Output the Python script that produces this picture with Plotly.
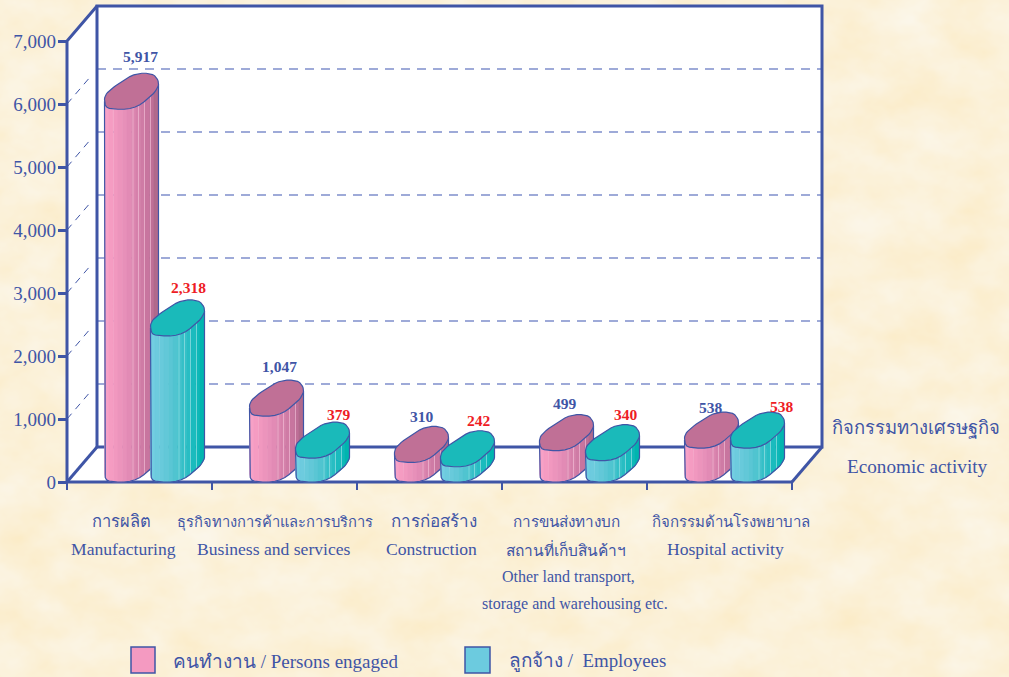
import base64
import plotly.graph_objects as go

# ---------- data ----------
categories_en = ["Manufacturing", "Business and services", "Construction", "Other land transport, storage and warehousing etc.", "Hospital activity"]
categories_th = ["การผลิต", "ธุรกิจทางการค้าและการบริการ", "การก่อสร้าง", "การขนส่งทางบก", "กิจกรรมด้านโรงพยาบาล"]
persons_engaged = [5917, 1047, 310, 499, 538]
employees = [2318, 379, 242, 340, 538]
y_ticks = [0, 1000, 2000, 3000, 4000, 5000, 6000, 7000]

# ---------- scale: pixels <-> data ----------
PX_CAT = 145.0
PX_VAL = 0.063
ORIGIN_X, ORIGIN_Y = 67, 482     # page pixel of (0, 0)
AREA_L, AREA_B = 58, 490         # page pixel of the plot-area left and bottom edges
W, H = 1009, 677
def X(px): return px / PX_CAT
def Y(px): return px / PX_VAL
def ax(page_x): return (page_x - ORIGIN_X) / PX_CAT
def ay(page_y): return (ORIGIN_Y - page_y) / PX_VAL
def paper_y(page_y): return (AREA_B - page_y) / AREA_B

DEPTH_X, DEPTH_Y = 30, 35
BLUE = "#3F55A6"
GRID = "#7F8FCB"
RED = "#EE1C25"
BG = "#FBF1DB"
SERIF = "Liberation Serif, Noto Sans, serif"

fig = go.Figure()

def poly(xs, ys, fill=None, line=None, width=0, dash=None):
    fig.add_trace(go.Scatter(
        x=xs, y=ys, mode="lines", cliponaxis=False, hoverinfo="skip", showlegend=False,
        fill="toself" if fill else "none", fillcolor=fill,
        line=dict(color=line or fill or BLUE, width=width, dash=dash)))

# ---------- walls ----------
top = 7000
dx, dy = X(DEPTH_X), Y(DEPTH_Y)
xend = 5
poly([dx, xend + dx, xend + dx, dx, dx], [dy, dy, top + dy, top + dy, dy], fill="#FFFFFF")
poly([0, dx, dx, 0, 0], [0, dy, top + dy, top, 0], fill="#FFFFFF")
poly([0, xend, xend + dx, dx, 0], [0, 0, dy, dy, 0], fill="#FFFFFF")

gx, gy, sx, sy = [], [], [], []
for v in y_ticks[1:-1]:
    gx += [dx, xend + dx, None]
    gy += [v + dy, v + dy, None]
    sx += [0, dx * 0.84, None]
    sy += [v, v + dy * 0.84, None]
poly(gx, gy, line=GRID, width=1.6, dash="9px,7px")
poly(sx, sy, line=BLUE, width=1, dash="7px,6px")

LW = 3
poly([dx, dx, xend + dx, xend + dx, dx], [dy, top + dy, top + dy, dy, dy], line=BLUE, width=LW)
poly([0, 0, dx], [0, top, top + dy], line=BLUE, width=LW)
poly([0, dx], [0, dy], line=BLUE, width=LW)
poly([xend, xend + dx], [0, dy], line=BLUE, width=LW)
poly([0, xend], [0, 0], line=BLUE, width=LW)

# ---------- real bars, carrying the values ----------
PINK_LEFT, TEAL_LEFT = 37.5, 83.5
fig.add_trace(go.Bar(x=[i + X(PINK_LEFT + 15) for i in range(5)], y=persons_engaged, width=X(18),
                     marker=dict(color="#F49AC1", line=dict(width=0)), name="Persons engaged", showlegend=False,
                     customdata=categories_en, hovertemplate="%{customdata}<br>%{y:,}<extra>Persons engaged</extra>"))
fig.add_trace(go.Bar(x=[i + X(TEAL_LEFT + 15) for i in range(5)], y=employees, width=X(18),
                     marker=dict(color="#6CCBDF", line=dict(width=0)), name="Employees", showlegend=False,
                     customdata=categories_en, hovertemplate="%{customdata}<br>%{y:,}<extra>Employees</extra>"))

# ---------- 3-D body ----------
CONTROL = [(0, 5), (4, 0), (29, 0), (46, 12), (54, 22), (54, 29), (48, 36), (31, 36), (16, 27), (5, 19), (0, 13)]
def chaikin(p, n=2):
    for _ in range(n):
        q = []
        for i in range(len(p)):
            a, b = p[i], p[(i + 1) % len(p)]
            q.append((0.75 * a[0] + 0.25 * b[0], 0.75 * a[1] + 0.25 * b[1]))
            q.append((0.25 * a[0] + 0.75 * b[0], 0.25 * a[1] + 0.75 * b[1]))
        p = q
    return p
SHAPE = chaikin(CONTROL)
xmin = min(p[0] for p in SHAPE); xmax = max(p[0] for p in SHAPE)
SHAPE = [(54 * (p[0] - xmin) / (xmax - xmin), p[1]) for p in SHAPE]
il = min(range(len(SHAPE)), key=lambda i: (SHAPE[i][0], SHAPE[i][1]))
ordered = SHAPE[il:] + SHAPE[:il]
ir2 = max(range(len(ordered)), key=lambda i: ordered[i][0])
LOWER = ordered[: ir2 + 1]

def lower_y(px):
    for a, b in zip(LOWER, LOWER[1:]):
        if a[0] <= px <= b[0] and b[0] > a[0]:
            return a[1] + (b[1] - a[1]) * (px - a[0]) / (b[0] - a[0])
    return LOWER[-1][1]

PINK_RAMP = ["#F7A1C6", "#F59CC2", "#F198BF", "#EC94BC", "#E790B9", "#E28BB5", "#DC86B0", "#D681AB", "#CF7BA5", "#C8759F", "#BE6F97", "#B0698C"]
TEAL_RAMP = ["#72CEE1", "#6DCBDE", "#68CADB", "#62C8D8", "#5AC6D4", "#50C4D0", "#44C2CC", "#36C0C8", "#28BDC3", "#1ABBBE", "#0DB8B8", "#00B5AF"]
LIGHT_LINES = [28.5, 34, 40, 46]

def body(i, left, value, ramp, topc, lightc):
    x0 = i + X(left)
    n = len(ramp)
    for k in range(n):
        a, b = 54 * k / n, 54 * (k + 1) / n
        pts = [a] + [p[0] for p in LOWER if a < p[0] < b] + [b]
        bot = [lower_y(p) for p in pts]
        xs = [x0 + X(p) for p in pts]
        poly(xs + xs[::-1] + [xs[0]],
             [Y(q) for q in bot] + [value + Y(q) for q in bot[::-1]] + [Y(bot[0])],
             fill=ramp[k], width=0.6)
    lx, ly = [], []
    for p in LIGHT_LINES:
        lx += [x0 + X(p), x0 + X(p), None]
        ly += [Y(lower_y(p)), value + Y(lower_y(p)), None]
    poly(lx, ly, line=lightc, width=0.7)
    ox = [x0 + X(LOWER[0][0])] + [x0 + X(p[0]) for p in LOWER] + [x0 + X(LOWER[-1][0])]
    oy = [value + Y(LOWER[0][1])] + [Y(p[1]) for p in LOWER] + [value + Y(LOWER[-1][1])]
    poly(ox, oy, line=BLUE, width=1.2)
    tx = [x0 + X(p[0]) for p in SHAPE] + [x0 + X(SHAPE[0][0])]
    ty = [value + Y(p[1]) for p in SHAPE] + [value + Y(SHAPE[0][1])]
    poly(tx, ty, fill=topc, line=BLUE, width=1.2)

for i in range(5):
    body(i, PINK_LEFT, persons_engaged[i], PINK_RAMP, "#C07096", "#F0BCD4")
    body(i, TEAL_LEFT, employees[i], TEAL_RAMP, "#1ABABA", "#9ADFE4")

# ---------- annotations ----------
ann = []
def text(t, px, py, size, color=BLUE, bold=False, anchor="center"):
    ann.append(dict(x=ax(px), y=paper_y(py), xref="x", yref="paper", text=f"<b>{t}</b>" if bold else t,
                    showarrow=False, xanchor=anchor, yanchor="middle",
                    font=dict(family=SERIF, size=size, color=color)))

LABEL_DX_P = [36, 30, 27, 25, 26]
LABEL_DY_P = [53, 50, 46, 47, 41]
LABEL_DX_E = [38, 43, 38, 40, 51]
LABEL_DY_E = [48, 44, 46, 46, 42]
for i in range(5):
    px = ORIGIN_X + 145 * i + PINK_LEFT + LABEL_DX_P[i]
    py = ORIGIN_Y - persons_engaged[i] * PX_VAL - LABEL_DY_P[i]
    text(f"{persons_engaged[i]:,}", px, py, 15.5, BLUE, True)
    px = ORIGIN_X + 145 * i + TEAL_LEFT + LABEL_DX_E[i]
    py = ORIGIN_Y - employees[i] * PX_VAL - LABEL_DY_E[i]
    text(f"{employees[i]:,}", px, py, 15.5, RED, True)

text("Manufacturing", 123.5, 549, 17.6)
text("Business and services", 274, 549, 17.6)
text("Construction", 431.5, 549, 17.6)
text("สถานที่เก็บสินค้าฯ", 566, 549, 15.5)
text("Hospital activity", 725, 549, 17.6)
text("Other land transport,", 568, 577, 16)
text("storage and warehousing etc.", 575, 604, 16)
text("กิจกรรมทางเศรษฐกิจ", 916, 428, 18.4)
text("Economic activity", 917, 466, 19.2)
text("คนทำงาน / Persons engaged", 171, 661, 19, anchor="left")
text("ลูกจ้าง /  Employees", 507, 661, 18.9, anchor="left")

shapes = [
    dict(type="rect", xref="x", yref="paper", x0=ax(131), x1=ax(155), y0=paper_y(673), y1=paper_y(647),
         fillcolor="#F49AC1", line=dict(color=BLUE, width=1.5)),
    dict(type="rect", xref="x", yref="paper", x0=ax(465), x1=ax(490), y0=paper_y(673), y1=paper_y(647),
         fillcolor="#6CCBDF", line=dict(color=BLUE, width=1.5)),
]

# mottled paper background
svg = f'''<svg xmlns="http://www.w3.org/2000/svg" width="{W}" height="{H}">
<filter id="p" x="0" y="0" width="100%" height="100%" color-interpolation-filters="sRGB">
<feTurbulence type="fractalNoise" baseFrequency="0.018 0.025" numOctaves="4" seed="7"/>
<feColorMatrix type="matrix" values="0 0 0 0 0.985  0.05 0 0 0 0.92  0.16 0 0 0 0.77  0 0 0 0 1"/>
</filter>
<rect width="{W}" height="{H}" filter="url(#p)"/></svg>'''
bg_uri = "data:image/svg+xml;base64," + base64.b64encode(svg.encode()).decode()
images = [dict(source=bg_uri, xref="paper", yref="paper", x=-AREA_L / (W - AREA_L), y=1,
               sizex=W / (W - AREA_L), sizey=H / AREA_B, xanchor="left", yanchor="top",
               sizing="stretch", layer="below")]

# per-label sizes match the narrower Thai face of the reference
TH_SIZES = [16.5, 14.7, 17, 15.3, 15]
ticktext_th = [f'<span style="font-size:{s}px">{t}</span>' for t, s in zip(categories_th, TH_SIZES)]

fig.update_layout(
    width=W, height=H, autosize=False,
    margin=dict(l=AREA_L, r=0, t=0, b=H - AREA_B, pad=0),
    paper_bgcolor=BG, plot_bgcolor="rgba(0,0,0,0)",
    barmode="overlay", showlegend=False, annotations=ann, shapes=shapes, images=images,
    font=dict(family=SERIF, color=BLUE),
    xaxis=dict(
        range=[ax(AREA_L), ax(W)], showgrid=False, zeroline=False, showline=False,
        tickmode="array", tickvals=[ax(121), ax(275), ax(434), ax(566), ax(731)], ticktext=ticktext_th,
        ticks="", ticklabelstandoff=19, tickangle=0, tickfont=dict(family=SERIF, size=17, color=BLUE),
        minor=dict(tickmode="array", tickvals=[0, 1, 2, 3, 4, 5], ticks="inside", ticklen=8, tickwidth=2, tickcolor=BLUE, showgrid=False),
    ),
    yaxis=dict(
        range=[ay(AREA_B), ay(0)], showgrid=False, zeroline=False, showline=False,
        tickmode="array", tickvals=y_ticks, ticktext=[f"{v:,}" for v in y_ticks],
        ticks="inside", ticklen=9, tickwidth=2.5, tickcolor=BLUE, ticklabelstandoff=1,
        tickfont=dict(family=SERIF, size=19, color=BLUE),
    ),
)

fig.write_html("out.html", config=dict(displayModeBar=False),
               post_script="document.body.style.margin='0';document.body.style.overflow='hidden';document.body.style.background='" + BG + "';")
